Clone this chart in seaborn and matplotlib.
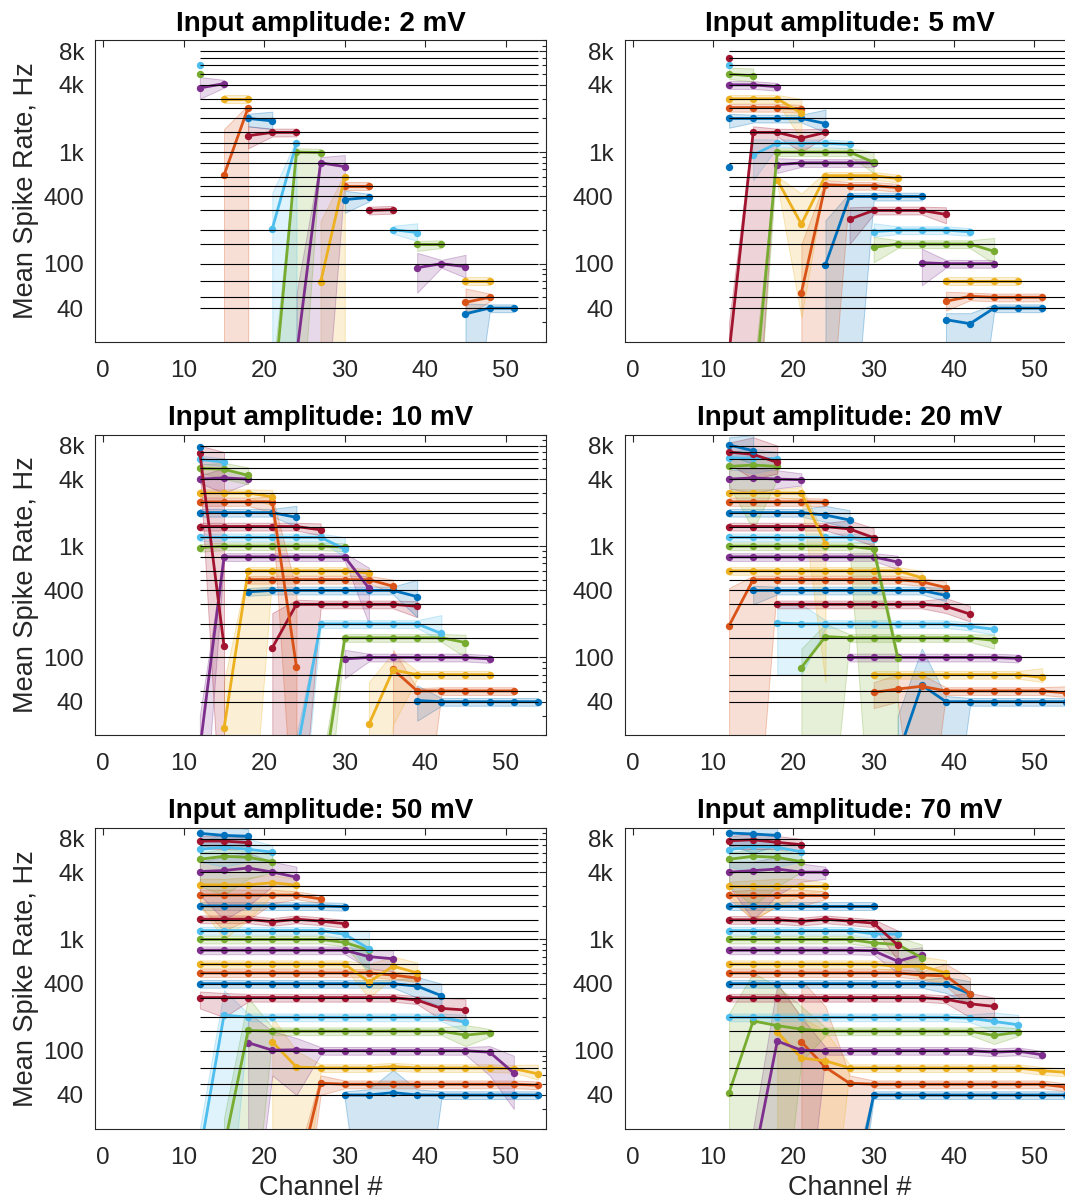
import numpy as np
import pandas as pd
import matplotlib
matplotlib.use("Agg")
import matplotlib.pyplot as plt
import seaborn as sns
from matplotlib.colors import to_rgba
from matplotlib.ticker import FixedLocator, NullFormatter, NullLocator

sns.set_theme(style="white")
plt.rcParams["font.family"] = ["Liberation Sans", "DejaVu Sans"]

# ---------------- data ----------------
FREQS = [40, 50, 70, 100, 150, 200, 300, 400, 500, 600, 800, 1000, 1200, 1500,
         2000, 2500, 3000, 4000, 5000, 6000, 7000, 8000]
COLORS = ["#0072BD", "#D95319", "#EDB120", "#7E2F8E", "#77AC30", "#4DBEEE", "#A2142F"]
CHANNEL_STEP = 3
Y_TICKS = [40, 100, 400, 1000, 4000, 8000]
Y_TICK_LABELS = ["40", "100", "400", "1k", "4k", "8k"]
X_TICKS = [0, 10, 20, 30, 40, 50]
TITLES = ["Input amplitude: 2 mV", "Input amplitude: 5 mV", "Input amplitude: 10 mV",
          "Input amplitude: 20 mV", "Input amplitude: 50 mV", "Input amplitude: 70 mV"]

# stimulus freq: (first channel, mean spike rate per channel, {point index: (band low, band high)})
AMP_02 = {
    6000: (12, [6000], {}),
    5000: (12, [5000], {}),
    4000: (12, [3750, 4100], {0: (3000, 4700)}),
    3000: (15, [3000, 3000], {}),
    2500: (15, [620, 2500], {0: (1, 1600), 1: (1, 2650)}),
    2000: (18, [2000, 1900], {0: (1700, 2200), 1: (1600, 2300)}),
    1500: (18, [1400, 1500, 1500], {0: (1080, 1700)}),
    1200: (21, [206, 1200], {0: (1, 430), 1: (1, 1300)}),
    1000: (21, [5, 1000, 990], {0: (1, 10), 1: (1, 1080)}),
    800: (24, [15, 800, 740], {0: (1, 54), 1: (1, 900), 2: (560, 940)}),
    600: (27, [68, 600], {0: (1, 240), 1: (1, 650)}),
    500: (30, [500, 500], {}),
    400: (30, [375, 392], {0: (285, 450)}),
    300: (33, [300, 305], {}),
    200: (36, [202, 190], {1: (160, 230)}),
    150: (39, [150, 150], {0: (130, 160)}),
    100: (39, [92, 100, 94], {0: (55, 125), 2: (75, 120)}),
    70: (45, [70, 70], {}),
    50: (45, [45, 50], {0: (34, 60)}),
    40: (45, [35.6, 40, 40], {0: (1, 44)}),
}

AMP_05 = {
    8000: (12, [740], {}),
    7000: (12, [7000], {}),
    6000: (12, [6000], {}),
    5000: (12, [5000, 4800], {0: (4500, 5700), 1: (4300, 5600)}),
    4000: (12, [4000, 4000, 3850], {}),
    3000: (12, [3000, 3000, 3000, 2230], {3: (1300, 3000)}),
    2500: (12, [2500, 2500, 2500, 2450], {}),
    2000: (12, [2000, 2000, 2000, 2000, 1800], {0: (1650, 2200), 4: (1500, 2400)}),
    1500: (12, [16, 1500, 1500, 1330, 1500], {0: (1, 30), 1: (1, 1700), 3: (1000, 1600)}),
    1200: (15, [940, 1200, 1200, 1200, 1170], {0: (560, 1300)}),
    1000: (15, [5, 1000, 1000, 1000, 1000, 810], {0: (1, 10), 5: (650, 1000)}),
    800: (18, [770, 800, 800, 800, 800], {0: (650, 880)}),
    600: (18, [561, 226, 614, 614, 614, 580], {1: (33, 425)}),
    500: (21, [55, 510, 500, 500, 480], {0: (1, 150), 1: (1, 560)}),
    400: (24, [98, 400, 400, 400, 400], {0: (1, 245), 1: (1, 430)}),
    300: (27, [250, 300, 300, 300, 276], {0: (150, 320), 4: (230, 320)}),
    200: (30, [194, 200, 200, 200, 193], {0: (175, 230)}),
    150: (30, [140, 150, 150, 150, 150, 129], {0: (103, 174), 5: (100, 170)}),
    100: (36, [102, 100, 100, 100], {0: (64, 136)}),
    70: (39, [70, 70, 70, 70], {}),
    50: (39, [46, 51, 50, 50, 50], {0: (38, 56)}),
    40: (39, [31.5, 29, 40, 40, 40], {0: (1, 36), 1: (1, 36)}),
}

AMP_10 = {
    8000: (12, [7800], {}),
    7000: (12, [6900, 127], {0: (5000, 8000), 1: (1, 7000)}),
    6000: (12, [6000, 5690], {}),
    5000: (12, [5000, 4900, 4320], {1: (4000, 5600), 2: (3600, 5100)}),
    4000: (12, [4000, 4100, 4000], {1: (3000, 5000)}),
    3000: (12, [3000, 3000, 3000, 2780], {3: (2300, 3200)}),
    2500: (12, [2500, 2500, 2500, 2500, 82], {3: (2000, 2800), 4: (1, 400)}),
    2000: (12, [2000, 2000, 2000, 2000, 1810], {4: (1500, 2300)}),
    1500: (12, [1500, 1500, 1500, 1500, 1500, 1400], {5: (1250, 1600)}),
    1200: (12, [1200, 1200, 1200, 1200, 1200, 1200, 940], {6: (800, 1200)}),
    1000: (12, [968, 1000, 1000, 1000, 1000, 1000, 980], {}),
    800: (12, [15, 800, 800, 800, 800, 800, 800, 418], {0: (1, 30), 7: (200, 640)}),
    600: (15, [23, 600, 600, 600, 600, 600, 572], {0: (1, 60), 1: (1, 650)}),
    500: (18, [500, 500, 500, 500, 500, 500, 436], {6: (380, 500)}),
    400: (18, [389, 400, 400, 400, 400, 400, 400, 351], {7: (230, 500)}),
    300: (21, [122, 300, 300, 300, 300, 300, 288], {0: (1, 250), 1: (1, 330), 6: (230, 320)}),
    200: (24, [13.6, 200, 200, 200, 200, 200, 164], {0: (1, 20), 6: (140, 240)}),
    150: (27, [5.6, 150, 150, 150, 150, 150, 136], {0: (1, 10), 6: (100, 160)}),
    100: (30, [97, 100, 100, 100, 100, 100, 97], {0: (65, 117)}),
    70: (33, [25, 77, 70, 70, 70, 70], {0: (1, 60), 1: (25, 110)}),
    50: (36, [78, 50, 50, 50, 50, 50], {0: (1, 117), 1: (1, 53)}),
    40: (39, [41, 40, 40, 40, 40, 40], {0: (27, 56)}),
}

AMP_20 = {
    8000: (12, [8100, 7200], {0: (6500, 9500), 1: (5500, 10000)}),
    7000: (12, [7000, 6670, 5650], {0: (5500, 8500), 1: (4000, 9500), 2: (4500, 8000)}),
    6000: (12, [6200, 6150, 6100], {0: (5000, 7000), 1: (4500, 7500), 2: (5000, 7000)}),
    5000: (12, [5200, 5350, 5200], {0: (3500, 6000), 1: (1400, 6500), 2: (4000, 5800)}),
    4000: (12, [4000, 4100, 4000, 3950], {0: (3300, 4800), 1: (3000, 5000), 2: (3300, 4800), 3: (3500, 4500)}),
    3000: (12, [3000, 3000, 3000, 3000, 1055], {3: (2600, 3400), 4: (60, 1200)}),
    2500: (12, [2500, 2500, 2500, 2500, 2480], {}),
    2000: (12, [2000, 2000, 2000, 2000, 1900, 1716], {4: (1650, 2300), 5: (1450, 2100)}),
    1500: (12, [1500, 1500, 1500, 1500, 1500, 1425, 1190], {5: (1200, 1700), 6: (1000, 1450)}),
    1200: (12, [1200, 1200, 1200, 1200, 1200, 1200, 1150], {}),
    1000: (12, [1000, 1000, 1000, 1000, 1000, 1000, 940, 99], {6: (1, 1050), 7: (1, 110)}),
    800: (12, [800, 800, 800, 800, 800, 800, 800, 719], {7: (620, 820)}),
    600: (12, [600, 600, 600, 600, 600, 600, 600, 600, 520], {8: (450, 600)}),
    500: (12, [193, 500, 500, 500, 500, 500, 500, 500, 478, 424], {0: (1, 420), 1: (1, 540), 9: (370, 480)}),
    400: (15, [400, 400, 400, 400, 400, 400, 400, 400, 360], {0: (300, 440), 8: (320, 420)}),
    300: (18, [300, 300, 300, 300, 300, 300, 300, 288, 245], {7: (250, 340), 8: (210, 290)}),
    200: (18, [204, 200, 200, 200, 200, 200, 200, 200, 190, 179], {0: (70, 300), 1: (70, 300), 9: (160, 200)}),
    150: (21, [81, 154, 150, 150, 150, 150, 150, 150, 142], {0: (1, 120), 1: (1, 200), 8: (120, 160)}),
    100: (27, [100, 100, 100, 100, 100, 100, 100, 98], {}),
    70: (30, [70, 70, 70, 70, 70, 70, 70, 66], {7: (60, 80)}),
    50: (30, [48.5, 52, 55, 50, 50, 50, 50, 50, 48], {0: (35, 60), 1: (40, 70), 2: (1, 70), 8: (44, 55)}),
    40: (33, [13, 56.5, 40, 40, 40, 40, 40, 40], {0: (1, 30), 1: (1, 120), 2: (1, 45)}),
}

AMP_50 = {
    8000: (12, [8970, 8600, 8450], {0: (7000, 10500), 1: (6500, 10500), 2: (7000, 9800)}),
    7000: (12, [7650, 7650, 7400], {0: (6500, 8500), 1: (6500, 8500), 2: (6500, 8300)}),
    6000: (12, [6450, 6750, 6450, 6080], {0: (5000, 7500), 1: (4500, 9000), 2: (5000, 8000), 3: (5000, 7000)}),
    5000: (12, [5250, 5580, 5460, 5000], {0: (3000, 6000), 1: (2500, 6500), 2: (3500, 6200), 3: (4000, 5800)}),
    4000: (12, [4070, 4160, 4380, 4030, 3620], {0: (2500, 5000), 1: (1500, 5500), 2: (2000, 6000), 3: (3000, 5000), 4: (3000, 4500)}),
    3000: (12, [3090, 3090, 3090, 3230, 3070], {0: (2000, 3500), 1: (1000, 3500), 2: (1500, 3600), 3: (2500, 3800), 4: (2600, 3500)}),
    2500: (12, [2500, 2500, 2500, 2500, 2500, 2310], {0: (2000, 2800), 1: (1200, 2800), 2: (1500, 2800), 3: (2100, 2800)}),
    2000: (12, [2000, 2000, 2000, 2000, 2000, 2000, 1970], {}),
    1500: (12, [1520, 1520, 1520, 1440, 1520, 1460, 1385], {}),
    1200: (12, [1200, 1200, 1200, 1200, 1200, 1200, 1112, 825], {7: (500, 1200)}),
    1000: (12, [1000, 1000, 1000, 1000, 1000, 1000, 940, 800], {7: (500, 1000)}),
    800: (12, [800, 800, 800, 800, 800, 800, 800, 700, 670], {7: (550, 800), 8: (520, 800)}),
    600: (12, [600, 600, 600, 600, 600, 600, 600, 414, 575, 500], {7: (300, 600), 8: (450, 700), 9: (420, 620)}),
    500: (12, [500, 500, 500, 500, 500, 500, 500, 500, 478, 450], {}),
    400: (12, [400, 400, 400, 400, 400, 400, 400, 400, 400, 380, 312], {9: (300, 460), 10: (250, 400)}),
    300: (12, [300, 300, 300, 300, 300, 300, 300, 300, 300, 285, 240, 232], {0: (240, 340), 1: (200, 330), 10: (190, 300), 11: (180, 290)}),
    200: (12, [12, 209, 200, 200, 200, 200, 200, 200, 200, 200, 200, 181], {0: (1, 20), 1: (1, 350), 11: (150, 210)}),
    150: (15, [13.5, 152, 150, 150, 150, 150, 150, 150, 150, 150, 138, 145], {0: (1, 25), 1: (1, 300), 10: (110, 170)}),
    100: (18, [118, 101, 102, 100, 100, 100, 100, 100, 100, 100, 97, 63], {0: (1, 220), 1: (60, 150), 2: (40, 130), 10: (60, 110), 11: (30, 90)}),
    70: (21, [120, 71.4, 70, 70, 70, 72, 70, 70, 70, 70, 69, 62], {0: (1, 200), 1: (1, 100), 11: (55, 75)}),
    50: (24, [6.3, 51, 50, 50, 50, 50, 50, 50, 50, 50, 49], {0: (1, 10), 1: (40, 60)}),
    40: (30, [40, 40, 42, 40, 40, 40, 40, 40, 40], {1: (1, 45), 2: (1, 67), 3: (1, 45)}),
}

AMP_70 = {
    8000: (12, [9040, 8850, 8600], {0: (7000, 10500), 1: (6000, 10500), 2: (7000, 10000)}),
    7000: (12, [7700, 7850, 7450, 7100], {0: (6500, 8500), 1: (6500, 8800), 2: (6500, 8500), 3: (6200, 8000)}),
    6000: (12, [6400, 6870, 6730, 6100], {0: (4500, 7500), 1: (4000, 8000), 2: (4500, 7500), 3: (5000, 7000)}),
    5000: (12, [5250, 5580, 5460, 5000], {0: (3000, 6000), 1: (2000, 6500), 2: (3000, 6500), 3: (4000, 5800)}),
    4000: (12, [4020, 4150, 4290, 4020, 4020], {0: (3000, 5000), 1: (1500, 5000), 2: (2500, 5500), 3: (3300, 4800), 4: (3500, 4500)}),
    3000: (12, [3000, 3000, 3000, 3000, 3000], {0: (2500, 3300), 1: (1500, 3400), 2: (2000, 3500), 3: (2500, 3500)}),
    2500: (12, [2500, 2500, 2500, 2500, 2500], {1: (1500, 2800), 2: (2000, 2800), 3: (2000, 2800)}),
    2000: (12, [2000, 2000, 2000, 2000, 2000, 2000, 2000], {}),
    1500: (12, [1500, 1500, 1500, 1450, 1520, 1460, 1400, 888], {7: (650, 1200)}),
    1200: (12, [1200, 1200, 1200, 1200, 1200, 1200, 1120, 1115], {}),
    1000: (12, [1000, 1000, 1000, 1000, 1000, 1000, 930, 900, 684], {7: (700, 1050), 8: (500, 900)}),
    800: (12, [800, 800, 800, 800, 800, 800, 790, 636, 730], {7: (500, 800), 8: (500, 850)}),
    600: (12, [600, 600, 600, 600, 600, 600, 600, 570, 575, 500], {8: (450, 700), 9: (400, 650)}),
    500: (12, [500, 500, 500, 500, 500, 500, 500, 500, 478, 470, 326], {9: (380, 600), 10: (250, 450)}),
    400: (12, [400, 400, 400, 400, 400, 400, 400, 400, 400, 395, 325], {9: (330, 460), 10: (260, 420)}),
    300: (12, [300, 300, 300, 300, 300, 300, 300, 300, 300, 290, 264, 250], {10: (200, 330), 11: (190, 300)}),
    200: (12, [200, 200, 200, 200, 200, 200, 200, 200, 200, 200, 196, 183, 171], {11: (150, 220), 12: (140, 210)}),
    150: (12, [42, 185, 168, 156, 150, 150, 150, 150, 150, 150, 150, 137, 147], {0: (1, 216), 1: (1, 500), 2: (1, 380), 3: (80, 250), 11: (115, 165)}),
    100: (15, [9.7, 122, 101, 100, 100, 100, 100, 100, 100, 100, 97, 99, 92], {0: (1, 20), 1: (1, 400), 2: (1, 200)}),
    70: (18, [147, 86, 81, 70, 70, 70, 70, 70, 70, 70, 70, 66, 64], {0: (1, 400), 1: (1, 200), 2: (1, 150)}),
    50: (21, [120, 71, 51, 50, 50, 50, 50, 50, 50, 50, 50, 47], {0: (1, 430), 1: (1, 250), 2: (1, 60)}),
    40: (27, [3.6, 40, 40, 40, 40, 40, 40, 40, 40, 40], {0: (1, 6)}),
}

PANELS = [AMP_02, AMP_05, AMP_10, AMP_20, AMP_50, AMP_70]

# ---------------- layout ----------------
W, H = 1065, 1204
fig = plt.figure(figsize=(W / 100, H / 100), dpi=100)
fig.patch.set_facecolor("white")
COLS = [(95.2, 450.8), (624.7, 449.7)]
ROWS = [(40.4, 341.7), (434.8, 735.2), (828.1, 1128.5)]
INK = "#262626"
PALETTE = {str(f): COLORS[i % len(COLORS)] for i, f in enumerate(FREQS)}
MINOR = [m * 10 ** e for e in range(1, 4) for m in range(2, 10)] + [10000]

for k, data in enumerate(PANELS):
    r, c = divmod(k, 2)
    x0, w = COLS[c]
    top, bot = ROWS[r]
    ax = fig.add_axes([x0 / W, 1 - bot / H, w / W, (bot - top) / H])
    ax.set_yscale("log")

    rows = []
    for f in FREQS:
        if f not in data:
            continue
        ch0, means, bands = data[f]
        ch = [ch0 + CHANNEL_STEP * i for i in range(len(means))]
        lo = [bands[i][0] if i in bands else m * 0.92 for i, m in enumerate(means)]
        hi = [bands[i][1] if i in bands else m * 1.08 for i, m in enumerate(means)]
        col = PALETTE[str(f)]
        if len(ch) > 1:
            ax.fill_between(ch, lo, hi, facecolor=to_rgba(col, 0.18),
                            edgecolor=to_rgba(col, 0.3), linewidth=0.7, zorder=1)
        for x, m in zip(ch, means):
            rows.append({"channel": x, "rate": m, "freq": str(f)})
    df = pd.DataFrame(rows)
    order = [str(f) for f in FREQS if f in data]
    sns.lineplot(data=df, x="channel", y="rate", hue="freq", hue_order=order,
                 palette=PALETTE, marker="o", markersize=5.3, mew=0, lw=2.0,
                 estimator=None, sort=True, legend=False, ax=ax, zorder=2)
    ax.hlines(FREQS, 12, 54, color="black", lw=0.8, zorder=3)

    ax.set_xlim(-1, 55)
    ax.set_ylim(20, 10000)
    ax.xaxis.set_major_locator(FixedLocator(X_TICKS))
    ax.xaxis.set_minor_locator(NullLocator())
    ax.yaxis.set_major_locator(FixedLocator(Y_TICKS))
    ax.set_yticklabels(Y_TICK_LABELS)
    ax.yaxis.set_minor_locator(FixedLocator(MINOR))
    ax.yaxis.set_minor_formatter(NullFormatter())
    ax.tick_params(which="both", direction="in", top=True, right=True,
                   color=INK, labelcolor=INK, width=0.8)
    ax.tick_params(which="major", length=5, labelsize=17.5)
    ax.tick_params(which="minor", length=3)
    ax.tick_params(axis="x", which="major", pad=13)
    ax.tick_params(axis="y", which="major", pad=8)
    for sp in ax.spines.values():
        sp.set_color(INK)
        sp.set_linewidth(0.8)
    ax.set_title(TITLES[k], fontsize=20, fontweight="bold", color="black", pad=7)
    ax.set_xlabel("")
    ax.set_ylabel("")
    if c == 0:
        ax.set_ylabel("Mean Spike Rate, Hz", fontsize=19.5, color=INK)
        ax.yaxis.set_label_coords(-0.125, 0.5)
    if r == 2:
        ax.set_xlabel("Channel #", fontsize=19.5, color=INK)
        ax.xaxis.set_label_coords(0.5, -0.155)

fig.savefig("out.png", dpi=100, facecolor="white")
